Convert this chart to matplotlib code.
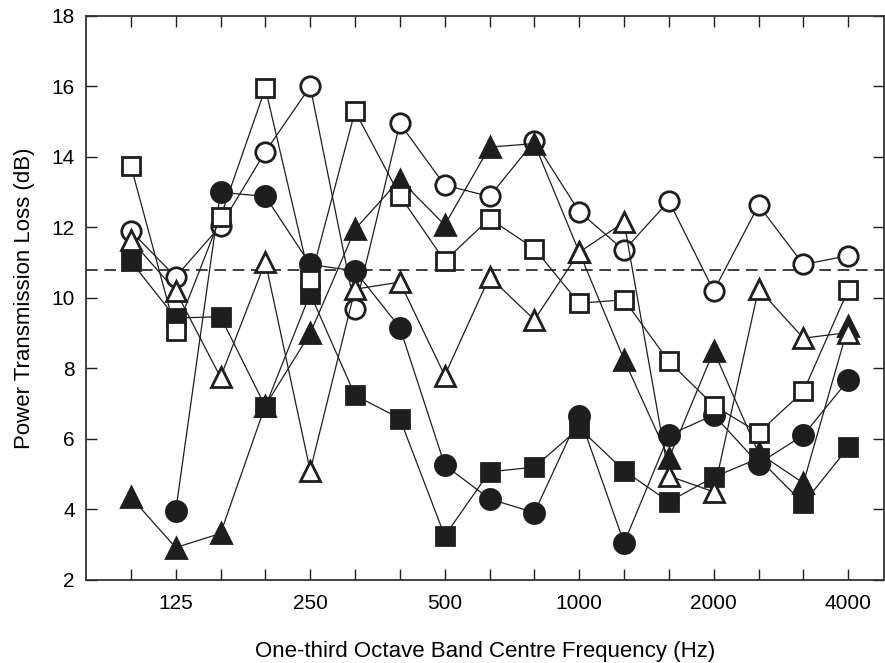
import numpy as np
import matplotlib
matplotlib.use('Agg')
from matplotlib import pyplot as plt

plt.rcParams['font.family'] = ['Liberation Sans', 'DejaVu Sans']

# one-third octave bands, 100 Hz - 4000 Hz
bands = [100, 125, 160, 200, 250, 315, 400, 500, 630, 800,
         1000, 1250, 1600, 2000, 2500, 3150, 4000]
tick_labels = ['', '125', '', '', '250', '', '', '500', '', '',
               '1000', '', '', '2000', '', '', '4000']

open_circle = [11.9, 10.6, 12.05, 14.15, 16.0, 9.7, 14.95, 13.2, 12.88, 14.45,
               12.45, 11.35, 12.75, 10.2, 12.63, 10.95, 11.2]
open_square = [13.75, 9.05, 12.3, 15.95, 10.5, 15.3, 12.9, 11.05, 12.25, 11.4,
               9.85, 9.95, 8.2, 6.95, 6.18, 7.35, 10.23]
open_triangle = [11.65, 10.2, 7.75, 11.03, 5.1, 10.25, 10.45, 7.8, 10.6, 9.38,
                 11.3, 12.15, 4.95, 4.5, 10.26, 8.86, 9.02]
filled_circle = [np.nan, 3.95, 13.0, 12.88, 10.95, 10.77, 9.16, 5.26, 4.3, 3.91,
                 6.66, 3.05, 6.11, 6.68, 5.3, 6.11, 7.67]
filled_square = [11.04, 9.43, 9.47, 6.92, 10.12, 7.24, 6.58, 3.25, 5.07, 5.2,
                 6.31, 5.1, 4.22, 4.92, 5.45, 4.17, 5.76]
filled_triangle = [4.35, 2.92, 3.32, 6.95, 9.0, 11.95, 13.36, 12.07, 14.28, 14.38,
                   11.3, 8.25, 5.45, 8.5, 5.6, 4.75, 9.2]
reference_level = 10.8

x = np.arange(len(bands))
ink = '#1e1e1e'

fig = plt.figure(figsize=(8.85, 6.63), dpi=100)
ax = fig.add_axes([0.0972, 0.1252, 0.9018, 0.8507])

ax.axhline(reference_level, color=ink, lw=1.2, dashes=(7, 4), zorder=1)

line_kw = dict(color=ink, lw=0.9, mec=ink, mew=2.0)
ax.plot(x, filled_square, marker='s', ms=12.5, mfc=ink, zorder=2, **line_kw)
ax.plot(x, open_circle, marker='o', ms=14, mfc='white', zorder=3, **line_kw)
ax.plot(x, filled_triangle, marker='^', ms=14, mfc=ink, zorder=4, **line_kw)
ax.plot(x, filled_circle, marker='o', ms=14.5, mfc=ink, zorder=5, **line_kw)
ax.plot(x, open_square, marker='s', ms=12.5, mfc='white', zorder=6, **line_kw)
ax.plot(x, open_triangle, marker='^', ms=14, mfc='white', zorder=7, **line_kw)

ax.set_xlim(-1, 16.8)
ax.set_ylim(2, 18)
ax.set_xticks(x)
ax.set_xticklabels(tick_labels)
ax.set_yticks(np.arange(2, 19, 2))

ax.tick_params(direction='in', length=8, width=1.0, color=ink,
               top=True, right=True, labelsize=15)
ax.tick_params(axis='x', pad=10)
ax.tick_params(axis='y', pad=8)
for s in ax.spines.values():
    s.set_color('#333333')
    s.set_linewidth(1.3)

ax.set_xlabel('One-third Octave Band Centre Frequency (Hz)', fontsize=16, labelpad=20)
ax.set_ylabel('Power Transmission Loss (dB)', fontsize=16, labelpad=12)

fig.savefig('out.png', dpi=100)
